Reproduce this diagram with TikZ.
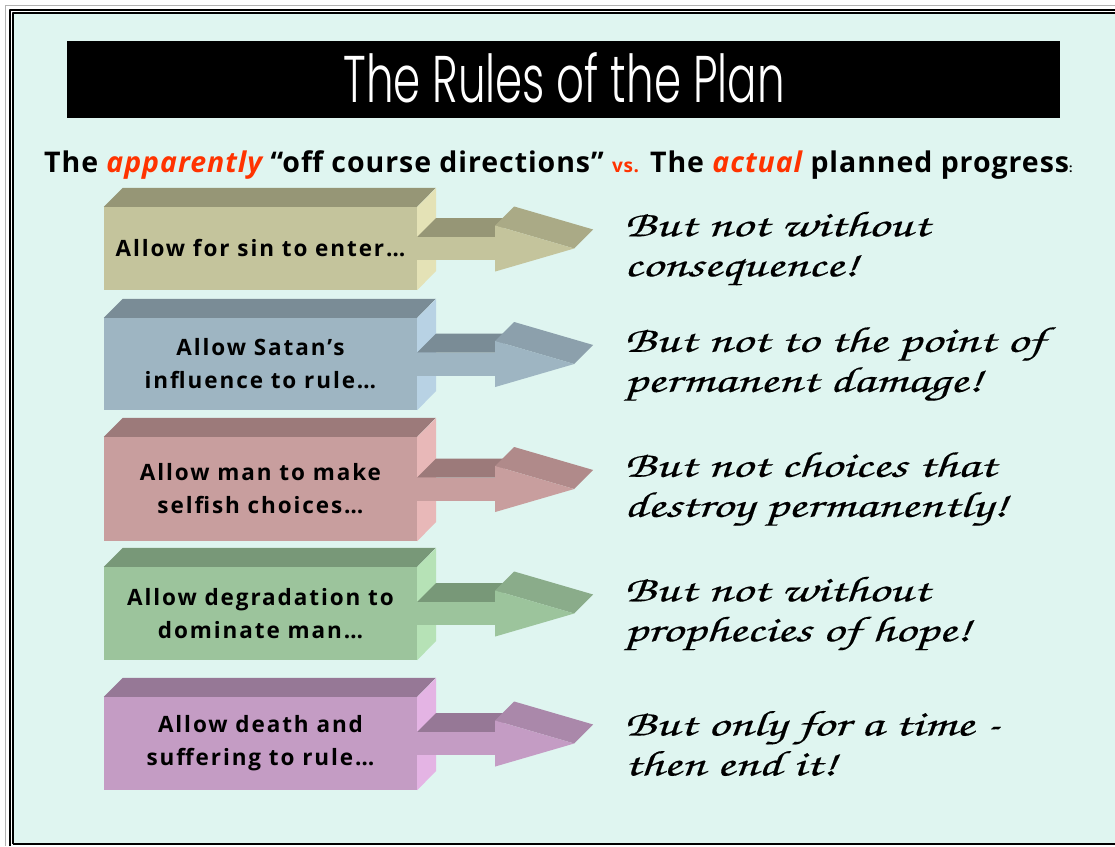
\documentclass[tikz,border=0pt]{standalone}
\usepackage{fontspec}
\setmainfont{Open Sans}
\IfFontExistsTF{Poppins Light}
	{\newfontfamily\titlefont{Poppins Light}[FakeStretch=0.66]}
	{\newfontfamily\titlefont{Poppins}[FakeStretch=0.66]}
\newfontfamily\handfont{texgyrechorus-mediumitalic.otf}[FakeStretch=1.45,FakeBold=0.35]
\newfontfamily\labfont{Open Sans}[LetterSpace=8.5]
\newfontfamily\subfont{Open Sans}[LetterSpace=3.3]
\definecolor{mint}{RGB}{223,245,240}
\definecolor{hot}{RGB}{255,51,0}
\definecolor{khakiF}{RGB}{196,196,156}
\definecolor{khakiT}{RGB}{150,150,118}
\definecolor{khakiS}{RGB}{228,226,182}
\definecolor{khakiH}{RGB}{170,170,134}
\definecolor{blueF}{RGB}{158,181,194}
\definecolor{blueT}{RGB}{122,140,150}
\definecolor{blueS}{RGB}{184,210,228}
\definecolor{blueH}{RGB}{140,160,172}
\definecolor{pinkF}{RGB}{200,158,158}
\definecolor{pinkT}{RGB}{156,122,122}
\definecolor{pinkS}{RGB}{232,184,184}
\definecolor{pinkH}{RGB}{176,138,138}
\definecolor{greenF}{RGB}{156,196,156}
\definecolor{greenT}{RGB}{120,152,120}
\definecolor{greenS}{RGB}{182,226,182}
\definecolor{greenH}{RGB}{138,172,138}
\definecolor{purpF}{RGB}{196,156,196}
\definecolor{purpT}{RGB}{150,120,150}
\definecolor{purpS}{RGB}{228,180,228}
\definecolor{purpH}{RGB}{170,136,170}
\begin{document}
\begin{tikzpicture}[x=1pt,y=-1pt,line join=round]
	\tikzset{boxface/.style={minimum width=313pt,inner sep=0pt,align=center,
			font=\labfont\bfseries\fontsize{22.5}{33}\selectfont},
		hand/.style={anchor=west,align=left,inner sep=0pt,
			font=\handfont\fontsize{36}{40}\selectfont}}
	\useasboundingbox (0,0) rectangle (1115,846);
	% frame
	\fill[white] (0,0) rectangle (1115,846);
	\fill[mint] (13,13) rectangle (1115,843);
	\draw[gray!60,line width=1.5] (5.5,846)--(5.5,5.5)--(1115,5.5);
	\draw[line width=2] (9.5,846)--(9.5,9.5)--(1115,9.5);
	\draw[line width=2] (12.5,844)--(12.5,12.5)--(1115,12.5);
	\draw[line width=2] (12.5,844)--(1115,844);
	% title
	\node[fill=black,minimum width=993pt,minimum height=77pt,inner sep=0pt] (bar) at (563.5,79.5) {};
	\node[text=white,anchor=base,font=\titlefont\fontsize{66}{66}\selectfont] (title) at (564,102) {The Rules of the Plan};
	\node[anchor=base west,inner sep=0pt,font=\subfont\bfseries\fontsize{28.5}{30}\selectfont] (sub) at (44,172)
	{The \textit{\color{hot}apparently} “off course directions” {\color{hot}\fontsize{19}{20}\selectfont vs.} The \textit{\color{hot}actual} planned progress{\fontsize{12}{12}\selectfont:}};
	% rows
	\foreach \t/\b/\col/\lab/\say [count=\i] in {
		207/290/khaki/{Allow for sin to enter…}/{But not without\\consequence!},
		318/410/blue/{Allow Satan’s\\influence to rule…}/{But not to the point of\\permanent damage!},
		437/541/pink/{Allow man to make\\selfish choices…}/{But not choices that\\destroy permanently!},
		567/660/green/{Allow degradation to\\dominate man…}/{But not without\\prophecies of hope!},
		697/790/purp/{Allow death and\\suffering to rule…}/{But only for a time -\\then end it!}}
	{
		\node[boxface,fill=\col F,minimum height={(\b-\t)*1pt}] (box\i) at (260.5,{(\t+\b)/2}) {\lab};
		\fill[\col T] (box\i.north west)--++(19,-19)--++(313,0)--(box\i.north east)--cycle;
		\fill[\col S] (box\i.north east)--++(19,-19)--++(0,\b-\t)--(box\i.south east)--cycle;
		\begin{scope}[shift={(box\i.east)}]
			\fill[\col T] (0,-11.5)--(19,-30.5)--(97,-30.5)--(78,-11.5)--cycle;
			\fill[\col F] (0,-11.5) rectangle (78,11.5);
			\fill[\col H] (78,-23)--(97,-42)--(176,-19)--(157,0)--cycle;
			\fill[\col F] (78,-23)--(157,0)--(78,23)--cycle;
		\end{scope}
		\node[hand] (say\i) at (624,{(\t+\b)/2}) {\say};
	}
\end{tikzpicture}
\end{document}
